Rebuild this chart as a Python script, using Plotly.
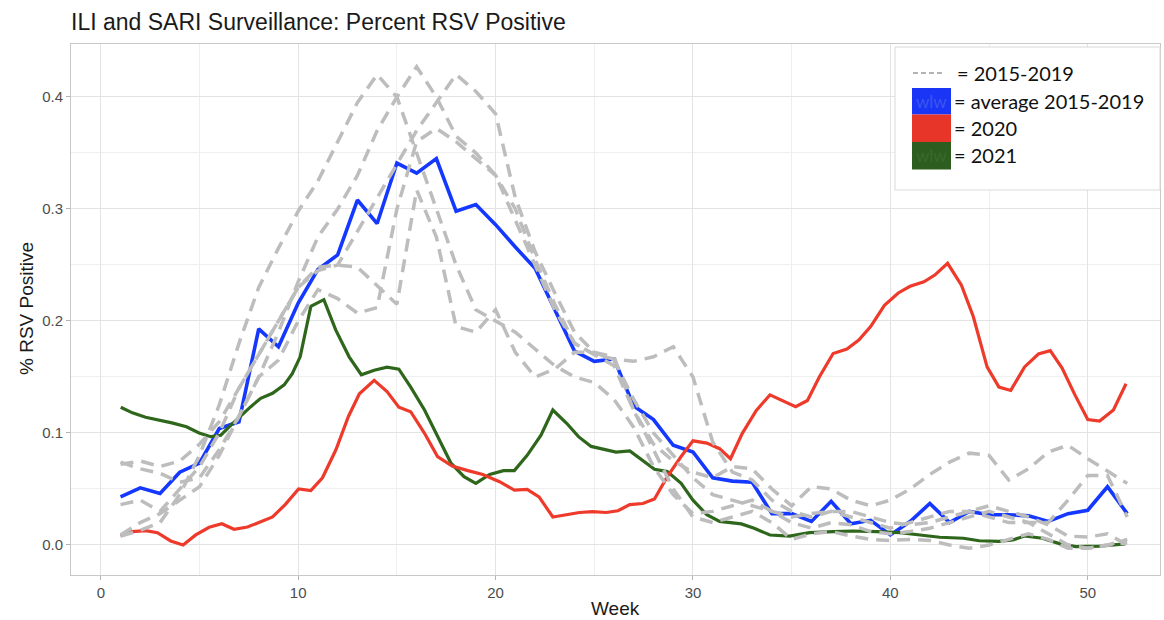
import plotly.graph_objects as go

# ---------------- data ----------------
weeks = list(range(1, 53))

avg_2015_2019 = [0.043, 0.051, 0.046, 0.065, 0.073, 0.104, 0.110, 0.193, 0.177, 0.216,
                 0.246, 0.259, 0.308, 0.287, 0.341, 0.332, 0.345, 0.298, 0.304, 0.286,
                 0.266, 0.247, 0.210, 0.173, 0.164, 0.166, 0.124, 0.112, 0.089, 0.083,
                 0.060, 0.057, 0.056, 0.028, 0.028, 0.021, 0.039, 0.019, 0.022, 0.009,
                 0.021, 0.037, 0.020, 0.030, 0.027, 0.027, 0.026, 0.021, 0.028, 0.031,
                 0.052, 0.028]

season_a = [0.008, 0.013, 0.020, 0.045, 0.080, 0.125, 0.180, 0.230, 0.265, 0.298,
            0.325, 0.360, 0.395, 0.420, 0.400, 0.350, 0.300, 0.250, 0.210, 0.200,
            0.190, 0.175, 0.160, 0.150, 0.145, 0.130, 0.105, 0.070, 0.045, 0.028,
            0.030, 0.035, 0.040, 0.030, 0.020, 0.015, 0.020, 0.018, 0.012, 0.010,
            0.012, 0.015, 0.020, 0.025, 0.030, 0.025, 0.020, 0.010, 0.000, -0.003,
            0.000, 0.002]
season_b = [0.074, 0.068, 0.064, 0.056, 0.060, 0.085, 0.115, 0.150, 0.190, 0.235,
            0.275, 0.300, 0.330, 0.370, 0.400, 0.427, 0.400, 0.365, 0.350, 0.330,
            0.290, 0.250, 0.210, 0.180, 0.170, 0.166, 0.164, 0.168, 0.177, 0.150,
            0.092, 0.065, 0.058, 0.040, 0.030, 0.025, 0.030, 0.025, 0.020, 0.015,
            0.020, 0.025, 0.030, 0.030, 0.025, 0.020, 0.020, 0.020, 0.040, 0.062,
            0.062, 0.025]
season_c = [0.072, 0.075, 0.070, 0.075, 0.090, 0.110, 0.140, 0.170, 0.200, 0.230,
            0.245, 0.250, 0.280, 0.310, 0.340, 0.370, 0.395, 0.420, 0.405, 0.385,
            0.310, 0.262, 0.225, 0.190, 0.172, 0.168, 0.120, 0.090, 0.075, 0.065,
            0.060, 0.070, 0.068, 0.050, 0.035, 0.052, 0.050, 0.040, 0.035, 0.040,
            0.050, 0.063, 0.074, 0.082, 0.080, 0.058, 0.068, 0.083, 0.089, 0.077,
            0.066, 0.055]
season_d = [0.036, 0.040, 0.030, 0.050, 0.070, 0.100, 0.140, 0.170, 0.200, 0.230,
            0.248, 0.250, 0.248, 0.232, 0.215, 0.317, 0.275, 0.195, 0.190, 0.210,
            0.172, 0.150, 0.157, 0.172, 0.172, 0.165, 0.130, 0.100, 0.080, 0.060,
            0.045, 0.040, 0.035, 0.030, 0.025, 0.028, 0.030, 0.030, 0.025, 0.020,
            0.018, 0.020, 0.025, 0.030, 0.035, 0.030, 0.025, 0.018, 0.008, 0.007,
            0.010, 0.000]
season_e = [0.009, 0.020, 0.028, 0.040, 0.052, 0.080, 0.115, 0.150, 0.165, 0.200,
            0.228, 0.220, 0.207, 0.212, 0.300, 0.360, 0.372, 0.360, 0.345, 0.330,
            0.300, 0.255, 0.215, 0.180, 0.170, 0.160, 0.120, 0.085, 0.050, 0.025,
            0.020, 0.025, 0.030, 0.020, 0.005, 0.010, 0.012, 0.008, 0.005, 0.004,
            0.005, 0.004, 0.000, -0.003, 0.000, 0.005, 0.010, 0.005, -0.003, -0.003,
            0.000, 0.005]

weeks_2020 = [1.0, 1.6, 2.27, 2.87, 3.54, 4.17, 4.81, 5.49, 6.13, 6.75, 7.43, 8.02, 8.7, 9.34,
              10.02, 10.64, 11.23, 11.91, 12.55, 13.1, 13.85, 14.5, 15.1, 15.7, 16.4, 17.06,
              17.8, 18.6, 19.35, 20.2, 20.95, 21.6, 22.2, 22.9, 23.6, 24.25, 24.9, 25.6, 26.2,
              26.8, 27.46, 28.05, 28.7, 29.4, 30.0, 30.7, 31.35, 31.9, 32.5, 33.2, 33.9, 34.6,
              35.2, 35.8, 36.4, 37.1, 37.8, 38.4, 39.0, 39.7, 40.4, 41.0, 41.7, 42.25, 42.9,
              43.6, 44.2, 44.9, 45.5, 46.1, 46.8, 47.5, 48.1, 48.7, 49.35, 50.0, 50.6, 51.3, 51.94]
rsv_2020 = [0.008, 0.012, 0.0128, 0.011, 0.0036, 0.0, 0.009, 0.0158, 0.019, 0.014, 0.016, 0.020,
            0.025, 0.036, 0.050, 0.0485, 0.060, 0.085, 0.115, 0.135, 0.147, 0.137, 0.123, 0.119,
            0.0997, 0.079, 0.0705, 0.0664, 0.063, 0.0565, 0.049, 0.0497, 0.043, 0.025, 0.0268,
            0.029, 0.0297, 0.029, 0.0306, 0.036, 0.037, 0.041, 0.061, 0.079, 0.093, 0.091, 0.086,
            0.077, 0.0997, 0.120, 0.134, 0.128, 0.1235, 0.129, 0.150, 0.171, 0.175, 0.183, 0.195,
            0.214, 0.225, 0.231, 0.235, 0.241, 0.2515, 0.232, 0.204, 0.159, 0.141, 0.138, 0.159,
            0.1705, 0.1735, 0.158, 0.134, 0.112, 0.1107, 0.1205, 0.144]

weeks_2021 = [1.01, 1.6, 2.27, 2.95, 3.6, 4.34, 4.98, 5.57, 6.08, 6.59, 7.17, 7.6, 8.1, 8.7, 9.29,
              9.7, 10.1, 10.64, 11.3, 11.9, 12.58, 13.2, 13.85, 14.5, 15.1, 15.7, 16.4, 17.06,
              17.74, 18.4, 19.0, 19.7, 20.4, 20.95, 21.6, 22.3, 22.9, 23.6, 24.2, 24.84, 25.5,
              26.1, 26.8, 27.4, 28.05, 28.7, 29.4, 30.0, 30.7, 31.35, 32.45, 33.1, 33.9, 34.9,
              35.9, 37.1, 38.1, 39.3, 40.5, 41.5, 42.5, 43.7, 44.5, 45.5, 46.2, 46.8, 47.7, 48.6,
              49.4, 50.6, 51.9]
rsv_2021 = [0.123, 0.118, 0.114, 0.1116, 0.109, 0.1056, 0.100, 0.0967, 0.098, 0.107, 0.117,
            0.1235, 0.131, 0.1354, 0.143, 0.153, 0.168, 0.213, 0.219, 0.192, 0.168, 0.152, 0.156,
            0.1587, 0.157, 0.141, 0.1205, 0.0967, 0.073, 0.061, 0.055, 0.063, 0.0664, 0.0664,
            0.080, 0.098, 0.1205, 0.1087, 0.0967, 0.088, 0.0854, 0.083, 0.084, 0.0765, 0.0676,
            0.0655, 0.055, 0.040, 0.027, 0.021, 0.0188, 0.0149, 0.0089, 0.008, 0.011, 0.0119,
            0.0125, 0.0119, 0.011, 0.0089, 0.0069, 0.006, 0.0038, 0.0033, 0.0045, 0.008, 0.006,
            0.001, -0.0015, -0.001, 0.001]

x_ticks = [0, 10, 20, 30, 40, 50]
y_ticks = [0.0, 0.1, 0.2, 0.3, 0.4]
y_tick_labels = ["0.0", "0.1", "0.2", "0.3", "0.4"]

legend_labels = ["= 2015-2019", "= average 2015-2019", "= 2020", "= 2021"]

# ---------------- styles ----------------
BLUE = "#1438FF"
RED = "#EE3A2A"
GREEN = "#2E661C"
GRAY = "#BDBDBD"
FONT = "Liberation Sans"

# plot-area geometry in pixels (for placing the drawn legend / titles)
L, R, T, B = 71, 1160, 44, 575
PW, PH = R - L, B - T


def fx(p):
    return (p - L) / PW


def fy(p):
    return (B - p) / PH


fig = go.Figure()

fig.add_trace(go.Scatter(x=weeks, y=avg_2015_2019, mode="lines",
                         line=dict(color=BLUE, width=3.6), name="average 2015-2019"))
fig.add_trace(go.Scatter(x=weeks_2021, y=rsv_2021, mode="lines",
                         line=dict(color=GREEN, width=3.2), name="2021"))
fig.add_trace(go.Scatter(x=weeks_2020, y=rsv_2020, mode="lines",
                         line=dict(color=RED, width=3.2), name="2020"))
for s in [season_a, season_b, season_c, season_d, season_e]:
    fig.add_trace(go.Scatter(x=weeks, y=s, mode="lines",
                             line=dict(color=GRAY, width=3.5, dash="13px,8px"),
                             name="2015-2019"))

fig.update_layout(
    width=1164, height=620,
    margin=dict(l=L, r=1164 - R, t=T, b=620 - B),
    paper_bgcolor="white", plot_bgcolor="white",
    showlegend=False,
    font=dict(family=FONT),
    title=dict(text="ILI and SARI Surveillance: Percent RSV Positive",
               x=71 / 1164, xanchor="left", xref="container",
               y=1 - 21.5 / 620, yanchor="middle", yref="container",
               font=dict(size=23, color="#1A1A1A", family=FONT)),
)

fig.update_xaxes(range=[-1.51, 53.66], tickvals=x_ticks, showgrid=True,
                 gridcolor="#E3E3E3", gridwidth=1, zeroline=False,
                 showline=True, linecolor="#C8C8C8", linewidth=1, mirror=True,
                 ticks="outside", ticklen=4, tickcolor="#B3B3B3",
                 tickfont=dict(size=15, color="#4D4D4D", family=FONT),
                 minor=dict(tickvals=[5, 15, 25, 35, 45], showgrid=True,
                            gridcolor="#EFEFEF", gridwidth=1, ticks=""))
fig.update_yaxes(range=[-0.0268, 0.4473], tickvals=y_ticks, ticktext=y_tick_labels,
                 showgrid=True, gridcolor="#E3E3E3", gridwidth=1, zeroline=False,
                 showline=True, linecolor="#C8C8C8", linewidth=1, mirror=True,
                 ticks="outside", ticklen=4, tickcolor="#B3B3B3",
                 tickfont=dict(size=15, color="#4D4D4D", family=FONT),
                 minor=dict(tickvals=[0.05, 0.15, 0.25, 0.35], showgrid=True,
                            gridcolor="#EFEFEF", gridwidth=1, ticks=""))

# axis titles
fig.add_annotation(text="Week", xref="paper", yref="paper", x=fx(615), y=fy(608),
                   xanchor="center", yanchor="middle", showarrow=False,
                   font=dict(size=19, color="#1A1A1A", family=FONT))
fig.add_annotation(text="% RSV Positive", xref="paper", yref="paper",
                   x=fx(26), y=fy(309), xanchor="center", yanchor="middle",
                   textangle=-90, showarrow=False,
                   font=dict(size=19, color="#1A1A1A", family=FONT))

# ---------------- inset legend (drawn) ----------------
LFONT = "Lato"
fig.add_shape(type="rect", xref="paper", yref="paper", layer="above",
              x0=fx(895), x1=1.0, y0=fy(190), y1=fy(47),
              fillcolor="white", line=dict(color="#D9D9D9", width=1))


def add_box(y_top, y_bot, color, ghost=None):
    fig.add_shape(type="rect", xref="paper", yref="paper", layer="above",
                  x0=fx(912), x1=fx(951), y0=fy(y_bot), y1=fy(y_top),
                  fillcolor=color, line=dict(width=0))
    if ghost:
        fig.add_annotation(text="wlw", xref="paper", yref="paper",
                           x=fx(931.5), y=fy((y_top + y_bot) / 2),
                           xanchor="center", yanchor="middle", showarrow=False,
                           font=dict(size=17, color=ghost, family=LFONT))


fig.add_shape(type="line", xref="paper", yref="paper", layer="above",
              x0=fx(913), x1=fx(944), y0=fy(73), y1=fy(73),
              line=dict(color="#9A9A9A", width=1.6, dash="5px,3px"))
add_box(88, 114.5, "#1A35F5", ghost="#3A55F0")
add_box(114.5, 142, "#E8352A")
add_box(142, 169.5, "#2D5E1F", ghost="#3A6A2C")

legend_y = [73, 101, 128, 155]
legend_x = [955, 952, 952, 952]
for lab, yy, xx in zip(legend_labels, legend_y, legend_x):
    fig.add_annotation(text=lab, xref="paper", yref="paper",
                       x=fx(xx), y=fy(yy),
                       xanchor="left", yanchor="middle", showarrow=False,
                       font=dict(size=20, color="#111111", family=LFONT))

fig.write_html("out.html", config={"displayModeBar": False},
               post_script="document.body.style.margin='0';")
